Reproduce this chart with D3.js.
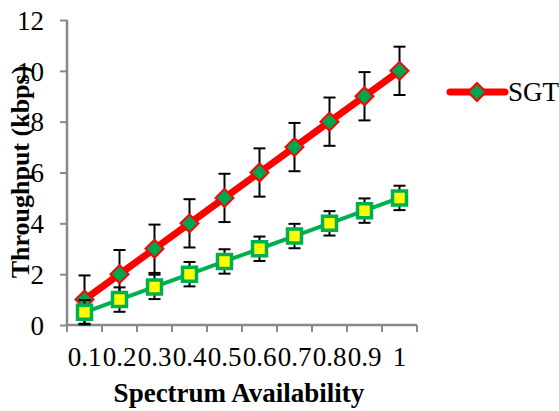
<!DOCTYPE html>
<html>
<head>
<meta charset="utf-8">
<script src="https://cdn.jsdelivr.net/npm/d3@7"></script>
<style>
  body { margin: 0; background: #fff; }
  svg text { font-family: "Liberation Serif", "Times New Roman", serif; fill: #000; }
</style>
</head>
<body>
<div id="chart"></div>
<script>
// chart values
var categories = ["0.1", "0.2", "0.3", "0.4", "0.5", "0.6", "0.7", "0.8", "0.9", "1"];
var sgtValues = [1, 2, 3, 4, 5, 6, 7, 8, 9, 10];
var sgtErrors = [0.95, 0.95, 0.95, 0.95, 0.95, 0.95, 0.95, 0.95, 0.95, 0.95];
var otherValues = [0.5, 1, 1.5, 2, 2.5, 3, 3.5, 4, 4.5, 5];
var otherErrors = [0.48, 0.48, 0.48, 0.48, 0.48, 0.48, 0.48, 0.48, 0.48, 0.48];
var yTicks = [0, 2, 4, 6, 8, 10, 12];

var W = 559, H = 411;
var margin = { top: 20, left: 67 },
    width = 350,
    height = 305;
var serif = "'Liberation Serif', 'Times New Roman', serif";

var svg = d3.select("#chart").append("svg")
    .attr("width", W)
    .attr("height", H);

var g = svg.append("g")
    .attr("transform", "translate(" + margin.left + "," + margin.top + ")");

var xScale = d3.scaleBand().domain(categories).range([0, width]);
var yScale = d3.scaleLinear().domain([0, 12]).range([height, 0]);

// axes
var yAxis = g.append("g")
    .call(d3.axisLeft(yScale).tickValues(yTicks).tickSize(7).tickPadding(16));
var xAxis = g.append("g")
    .attr("transform", "translate(0," + height + ")")
    .call(d3.axisBottom(xScale).tickSize(0).tickPadding(21));

[yAxis, xAxis].forEach(function (a) {
    a.attr("font-family", serif).attr("font-size", 27);
    a.select(".domain").attr("stroke", "#898989").attr("stroke-width", 2.5);
    a.selectAll(".tick line").attr("stroke", "#898989").attr("stroke-width", 2);
    a.selectAll("text").attr("fill", "#000");
});
yAxis.select(".domain").attr("d", "M0,0V" + height);
xAxis.select(".domain").attr("d", "M0,0H" + width);
yAxis.selectAll(".tick text").attr("dy", "0.34em");
xAxis.selectAll(".tick text").attr("dy", "0.75em");

// x tick marks sit at category boundaries
xAxis.selectAll(".bound")
    .data(d3.range(categories.length + 1))
    .enter().append("line")
    .attr("x1", function (i) { return i * xScale.step(); })
    .attr("x2", function (i) { return i * xScale.step(); })
    .attr("y1", 0).attr("y2", 7)
    .attr("stroke", "#898989").attr("stroke-width", 2);

var cx = function (d, i) { return xScale(categories[i]) + xScale.bandwidth() / 2; };

function drawSeries(values, errors, lineColor, lineWidth, marker) {
    var s = g.append("g");
    var line = d3.line()
        .x(function (d, i) { return cx(d, i); })
        .y(function (d) { return yScale(d); });
    s.append("path")
        .datum(values)
        .attr("d", line)
        .attr("fill", "none")
        .attr("stroke", lineColor)
        .attr("stroke-width", lineWidth)
        .attr("stroke-linejoin", "round");

    // error bars
    var eb = s.selectAll(".err").data(values).enter().append("g");
    eb.append("line")
        .attr("x1", cx).attr("x2", cx)
        .attr("y1", function (d, i) { return yScale(d + errors[i]); })
        .attr("y2", function (d, i) { return yScale(d - errors[i]); })
        .attr("stroke", "#000").attr("stroke-width", 2);
    [1, -1].forEach(function (sgn) {
        eb.append("line")
            .attr("x1", function (d, i) { return cx(d, i) - 6; })
            .attr("x2", function (d, i) { return cx(d, i) + 6; })
            .attr("y1", function (d, i) { return yScale(d + sgn * errors[i]); })
            .attr("y2", function (d, i) { return yScale(d + sgn * errors[i]); })
            .attr("stroke", "#000").attr("stroke-width", 2);
    });

    // markers
    s.selectAll(".mk").data(values).enter().append("path")
        .attr("transform", function (d, i) { return "translate(" + cx(d, i) + "," + yScale(d) + ")"; })
        .attr("d", marker.path)
        .attr("fill", marker.fill)
        .attr("stroke", marker.stroke)
        .attr("stroke-width", marker.strokeWidth);
}

var diamond = { path: "M0,-9L9,0L0,9L-9,0Z", fill: "#00A550", stroke: "#FF0000", strokeWidth: 2 };
var square = { path: "M-7,-7H7V7H-7Z", fill: "#FFFF00", stroke: "#00B050", strokeWidth: 3.5 };

drawSeries(sgtValues, sgtErrors, "#FF0000", 7, diamond);
drawSeries(otherValues, otherErrors, "#00B050", 4, square);

// axis titles
svg.append("text")
    .attr("x", 239).attr("y", 402)
    .attr("text-anchor", "middle")
    .attr("font-family", serif)
    .style("font-size", "27px").style("font-weight", "bold")
    .text("Spectrum Availability");

svg.append("text")
    .attr("transform", "translate(29,172) rotate(-90)")
    .attr("text-anchor", "middle")
    .attr("font-family", serif)
    .style("font-size", "26px").style("font-weight", "bold")
    .text("Throughput (kbps)");

// legend
var lg = svg.append("g").attr("transform", "translate(450,92)");
lg.append("line")
    .attr("x1", 0).attr("x2", 55).attr("y1", 0).attr("y2", 0)
    .attr("stroke", "#FF0000").attr("stroke-width", 7)
    .attr("stroke-linecap", "round");
lg.append("path")
    .attr("transform", "translate(27,0)")
    .attr("d", diamond.path)
    .attr("fill", diamond.fill).attr("stroke", diamond.stroke).attr("stroke-width", 2);
lg.append("text")
    .attr("x", 58).attr("y", 9)
    .attr("font-family", serif)
    .style("font-size", "27px")
    .text("SGT");
</script>
</body>
</html>
